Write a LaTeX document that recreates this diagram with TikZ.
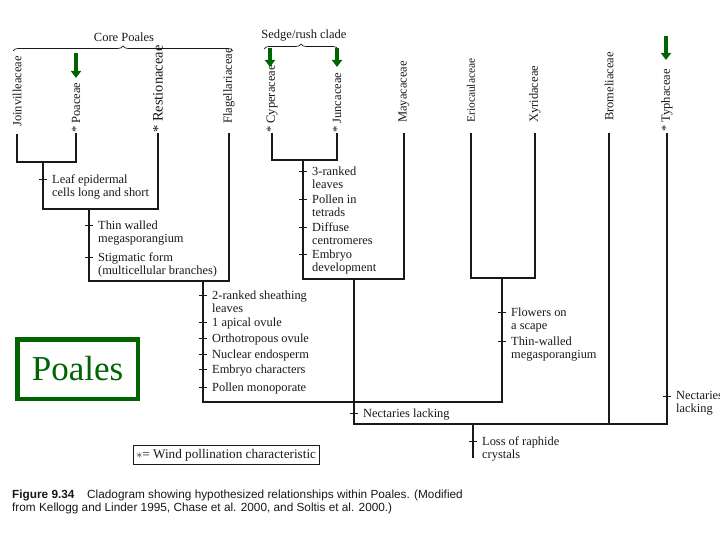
\documentclass[tikz,border=0pt]{standalone}
\usepackage{fontspec}
\setmainfont{Liberation Serif}
\newfontfamily\capfont{Liberation Sans}
\usetikzlibrary{arrows.meta,decorations.pathreplacing}
\definecolor{pgreen}{RGB}{0,100,0}
\definecolor{ink}{RGB}{25,25,25}
\newcommand\chlab[4]{%
  \coordinate (#1) at (#2,#3);
  \draw[tickline] ([xshift=-4pt]#1) -- ([xshift=4pt]#1);
  \node[charlab] (#1t) at ([xshift=9pt,yshift=4.5pt]#1) {#4};}
\begin{document}
\begin{tikzpicture}[x=1pt,y=-1pt,
  tree/.style={ink,line width=1.2pt},
  tickline/.style={ink,line width=0.8pt},
  taxon/.style={rotate=90,anchor=west,inner sep=0pt,text=ink,font=\fontsize{12.5}{14}\selectfont},
  charlab/.style={anchor=north west,inner sep=0pt,align=left,text=ink,font=\fontsize{12.4}{13}\selectfont},
  windarrow/.style={pgreen,line width=4pt,-{Triangle[length=7pt,width=10pt]}},
  bracedeco/.style={ink,line width=0.7pt,decorate,decoration={brace,amplitude=5pt}},
  bracetext/.style={inner sep=0pt,text=ink,font=\fontsize{12.5}{14}\selectfont}
]
\useasboundingbox[fill=white] (0,0) rectangle (720,540);

% braces
\coordinate (bL1) at (13,51); \coordinate (bR1) at (233,51);
\draw[bracedeco] (bL1) -- (bR1);
\node[bracetext] (core) at (124,37) {Core Poales};
\coordinate (bL2) at (264,49); \coordinate (bR2) at (338,49);
\draw[bracedeco] (bL2) -- (bR2);
\node[bracetext] (sedge) at (304,36) {Sedge/rush clade};

% taxa tops
\coordinate (tJ) at (17,134);
\coordinate (tP) at (76,133);
\coordinate (tR) at (158,133);
\coordinate (tF) at (229,133);
\coordinate (tC) at (272,133);
\coordinate (tU) at (337,133);
\coordinate (tM) at (404,133);
\coordinate (tE) at (471,133);
\coordinate (tX) at (535,133);
\coordinate (tB) at (609,133);
\coordinate (tT) at (667,133);

% taxon labels
\node[taxon] (lJ) at (17,127) {Joinvilleaceae};
\node[taxon] (lP) at (76,133) {* Poaceae};
\node[taxon,font=\fontsize{14.5}{16}\selectfont] (lR) at (158,133) {* Restionaceae};
\node[taxon] (lF) at (229,124) {Flagellariaceae};
\node[taxon] (lC) at (272,133) {* Cyperaceae};
\node[taxon] (lU) at (337,133) {* Juncaceae};
\node[taxon] (lM) at (404,123) {Mayacaceae};
\node[taxon,font=\fontsize{11.5}{13}\selectfont] (lE) at (471,123) {Eriocaulaceae};
\node[taxon] (lX) at (535,123) {Xyridaceae};
\node[taxon] (lB) at (609,121) {Bromeliaceae};
\node[taxon] (lT) at (667,132) {* Typhaceae};

% green arrows
\coordinate (aP1) at (76,53); \coordinate (aP2) at (76,78);
\coordinate (aC1) at (270,48); \coordinate (aC2) at (270,67);
\coordinate (aU1) at (337,48); \coordinate (aU2) at (337,67);
\coordinate (aT1) at (666,36); \coordinate (aT2) at (666,60);
\draw[windarrow] (aP1) -- (aP2);
\draw[windarrow] (aC1) -- (aC2);
\draw[windarrow] (aU1) -- (aU2);
\draw[windarrow] (aT1) -- (aT2);

% internal nodes
\coordinate (n1) at (43,162);
\coordinate (n2) at (89,209);
\coordinate (n3) at (203,281);
\coordinate (n4) at (303,160);
\coordinate (n5) at (354,279);
\coordinate (n6) at (502,278);
\coordinate (n7) at (354,402);
\coordinate (n8) at (473,424);
\coordinate (root) at (473,458);

% tree
\draw[tree] (tJ) |- (n1) -| (tP);
\draw[tree] (n1) |- (n2) -| (tR);
\draw[tree] (n2) |- (n3) -| (tF);
\draw[tree] (n3) |- (n7) -| (n6);
\draw[tree] (tE) |- (n6) -| (tX);
\draw[tree] (tC) |- (n4) -| (tU);
\draw[tree] (n4) |- (n5) -| (tM);
\draw[tree] (n5) -- (n7);
\draw[tree] (n7) |- (n8) -| (tT);
\draw[tree] (tB) -- (tB |- n8);
\draw[tree] (n8) -- (root);

% characters
\chlab{k1}{43}{179}{Leaf epidermal\\cells long and short}
\chlab{k2}{89}{225}{Thin walled\\megasporangium}
\chlab{k3}{89}{257}{Stigmatic form\\(multicellular branches)}
\chlab{k4}{303}{171}{3-ranked\\leaves}
\chlab{k5}{303}{199}{Pollen in\\tetrads}
\chlab{k6}{303}{227}{Diffuse\\centromeres}
\chlab{k7}{303}{254}{Embryo\\development}
\chlab{k8}{203}{295}{2-ranked sheathing\\leaves}
\chlab{k9}{203}{322}{1 apical ovule}
\chlab{k10}{203}{338}{Orthotropous ovule}
\chlab{k11}{203}{354}{Nuclear endosperm}
\chlab{k12}{203}{369}{Embryo characters}
\chlab{k13}{203}{387}{Pollen monoporate}
\chlab{k14}{502}{312}{Flowers on\\a scape}
\chlab{k15}{502}{341}{Thin-walled\\megasporangium}
\chlab{k16}{354}{413}{Nectaries lacking}
\chlab{k17}{667}{396}{Nectaries\\lacking}
\chlab{k18}{473}{441}{Loss of raphide\\crystals}

% Poales box
\node[draw=pgreen,line width=4.5pt,text=pgreen,font=\fontsize{35}{40}\selectfont,
      minimum width=120.5pt,minimum height=59.5pt,inner sep=0pt] (poales) at (77.5,369) {Poales};

% legend
\node[draw=ink,line width=0.7pt,anchor=west,minimum height=19pt,
      inner xsep=3pt,inner ysep=2pt,text=ink,font=\fontsize{13.2}{15}\selectfont] (legend) at (133,455)
      {$\ast$= Wind pollination characteristic};

% caption
\node[anchor=north west,inner sep=0pt,align=left,text=ink,font=\capfont\fontsize{11.8}{13}\selectfont]
  (caption) at (12,490)
  {\textbf{Figure 9.34}\hspace{0.8em} Cladogram showing hypothesized relationships within Poales. (Modified\\
   from Kellogg and Linder 1995, Chase et al. 2000, and Soltis et al. 2000.)};
\end{tikzpicture}
\end{document}
